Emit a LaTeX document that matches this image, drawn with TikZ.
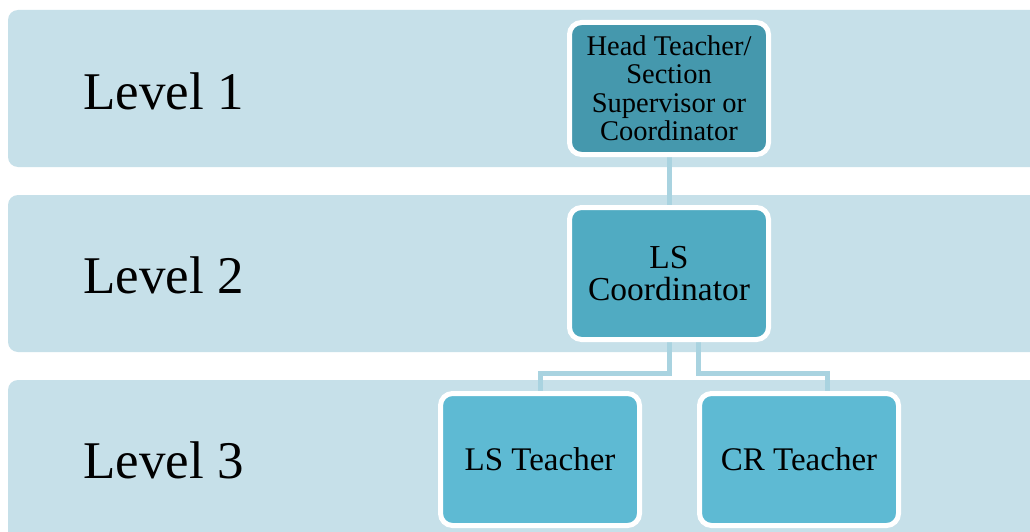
\documentclass[tikz,border=0pt]{standalone}
\usepackage{fontspec}
\setmainfont{Liberation Serif}
\definecolor{band}{HTML}{C6E0E9}
\definecolor{boxA}{HTML}{4598AD}
\definecolor{boxB}{HTML}{50ABC2}
\definecolor{boxC}{HTML}{5EBAD3}
\definecolor{conn}{HTML}{A9D3E0}
\pgfdeclarelayer{bandlayer}
\pgfdeclarelayer{connlayer}
\pgfsetlayers{bandlayer,connlayer,main}
\begin{document}
\begin{tikzpicture}[x=1pt,y=-1pt,
  bandbox/.style={fill=band,rounded corners=10pt},
  levellabel/.style={anchor=west,font=\fontsize{53}{56}\selectfont,inner sep=0pt},
  orgbox/.style={draw=white,line width=5pt,rounded corners=12pt,minimum width=199pt,minimum height=132pt,align=center,text=black,inner sep=2pt},
  connector/.style={draw=conn,line width=5pt}]
\useasboundingbox (0,0) rectangle (1030,532);
\begin{pgfonlayer}{bandlayer}
\fill[white] (0,0) rectangle (1030,532);
\path[bandbox] (8,10) rectangle (1045,167);
\path[bandbox] (8,195) rectangle (1045,352);
\path[bandbox] (8,380) rectangle (1045,545);
\end{pgfonlayer}
% level labels
\node[levellabel] (lv1) at (83,91) {Level 1};
\node[levellabel] (lv2) at (83,275) {Level 2};
\node[levellabel] (lv3) at (83,460) {Level 3};
% boxes
\node[orgbox,fill=boxA,font=\fontsize{28.5}{28.5}\selectfont] (top) at (669,88.5) {Head Teacher/\\Section\\Supervisor or\\Coordinator};
\node[orgbox,fill=boxB,font=\fontsize{33.5}{32}\selectfont] (mid) at (669,273.5) {LS\\Coordinator};
\node[orgbox,fill=boxC,font=\fontsize{33}{34}\selectfont] (ls) at (540,459.5) {LS Teacher};
\node[orgbox,fill=boxC,font=\fontsize{33}{34}\selectfont] (cr) at (799,459.5) {CR Teacher};
% connector helper points
\coordinate (jA) at (669.5,373.5);
\coordinate (jB) at (698,373.5);
\coordinate (dB) at (827,392);
\begin{pgfonlayer}{connlayer}
\draw[connector] (top.south) -- (mid.north);
\draw[connector] (mid.south -| jA) -- (jA) -| (ls.north);
\draw[connector] (mid.south -| jB) -- (jB) -| (dB);
\end{pgfonlayer}
\end{tikzpicture}
\end{document}
